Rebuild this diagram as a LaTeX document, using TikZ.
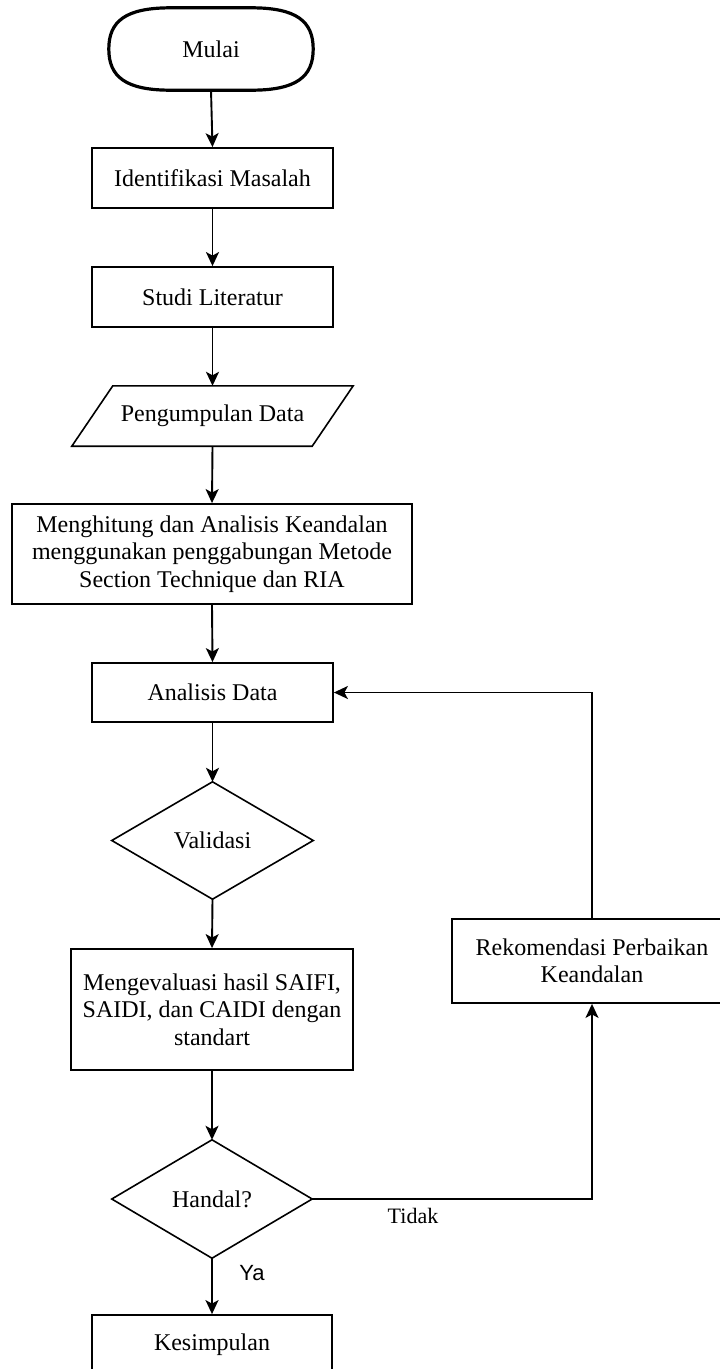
\documentclass[tikz,border=0pt]{standalone}
\usepackage{fontspec}
\setmainfont{Liberation Serif}
\newfontfamily\sansf{Liberation Sans}
\usetikzlibrary{arrows.meta,positioning}
\tikzset{
  box/.style={draw=black, line width=1.8pt, rectangle, inner sep=0pt, align=center,
    font=\fontsize{24}{27.5}\selectfont},
  ghost/.style={rectangle, inner sep=0pt, align=center, font=\fontsize{24}{27.5}\selectfont},
  shapeline/.style={draw=black, line width=1.6pt, line join=miter},
  termline/.style={draw=black, line width=3.2pt},
  conn/.style={draw=black, line width=1.9pt, -{Stealth[length=14pt,width=13pt,inset=3.5pt]}},
  lbl/.style={font=\fontsize{22}{24}\selectfont, inner sep=0pt}
}
\begin{document}
\begin{tikzpicture}[x=1pt,y=-1pt]
\useasboundingbox (0,0) rectangle (720,1369);
\clip (0,0) rectangle (720,1369);
\fill[white] (0,0) rectangle (720,1369);

% nodes
\node[ghost, minimum width=204pt, minimum height=82pt] (mulai) at (211,49) {Mulai};
\draw[termline] ([xshift=62pt]mulai.north west) -- ([xshift=-62pt]mulai.north east)
  .. controls +(45,0) and +(0,-28) .. (mulai.east)
  .. controls +(0,28) and +(45,0) .. ([xshift=-62pt]mulai.south east)
  -- ([xshift=62pt]mulai.south west)
  .. controls +(-45,0) and +(0,28) .. (mulai.west)
  .. controls +(0,-28) and +(-45,0) .. ([xshift=62pt]mulai.north west) -- cycle;
\node[box, minimum width=241pt, minimum height=60pt] (ident) at (212.5,178) {Identifikasi Masalah};
\node[box, minimum width=241pt, minimum height=60pt] (studi) at (212.5,297) {Studi Literatur};
\node[ghost, minimum width=240pt, minimum height=60pt] (pd) at (212.5,416) {Pengumpulan Data};
\draw[shapeline] ([xshift=20.5pt]pd.north west) -- ([xshift=20.5pt]pd.north east)
  -- ([xshift=-20.5pt]pd.south east) -- ([xshift=-20.5pt]pd.south west) -- cycle;
\node[box, minimum width=400pt, minimum height=100pt] (hitung) at (212,554)
  {Menghitung dan Analisis Keandalan\\menggunakan penggabungan Metode\\Section Technique dan RIA};
\node[box, minimum width=241pt, minimum height=59pt] (analisis) at (212.5,692.5) {Analisis Data};
\node[ghost, minimum width=201pt, minimum height=117pt] (valid) at (212.5,840.5) {Validasi};
\draw[shapeline] (valid.north) -- (valid.east) -- (valid.south) -- (valid.west) -- cycle;
\node[box, minimum width=282pt, minimum height=121pt] (eval) at (212,1009.5)
  {Mengevaluasi hasil SAIFI,\\SAIDI, dan CAIDI dengan\\standart};
\node[ghost, minimum width=200pt, minimum height=118pt] (handal) at (212,1199) {Handal?};
\draw[shapeline] (handal.north) -- (handal.east) -- (handal.south) -- (handal.west) -- cycle;
\node[box, minimum width=240pt, minimum height=60pt] (simpul) at (212,1345) {Kesimpulan};
\node[box, minimum width=280pt, minimum height=84pt] (rekom) at (592,961)
  {Rekomendasi Perbaikan\\Keandalan};

% connectors
\draw[conn] (mulai.south) -- (ident.north);
\draw[conn] (ident.south) -- (studi.north);
\draw[conn] (studi.south) -- (pd.north);
\draw[conn] (pd.south) -- (hitung.north);
\draw[conn] (hitung.south) -- (analisis.north);
\draw[conn] (analisis.south) -- (valid.north);
\draw[conn] (valid.south) -- (eval.north);
\draw[conn] (eval.south) -- (handal.north);
\draw[conn] (handal.south) -- (simpul.north);
\draw[conn] (handal.east) -| (rekom.south);
\draw[conn] (rekom.north) |- (analisis.east);

% labels
\node[lbl, font=\sansf\fontsize{22}{24}\selectfont] (ya) at (252,1273) {Ya};
\node[lbl] (tidak) at (413,1216) {Tidak};
\end{tikzpicture}
\end{document}
